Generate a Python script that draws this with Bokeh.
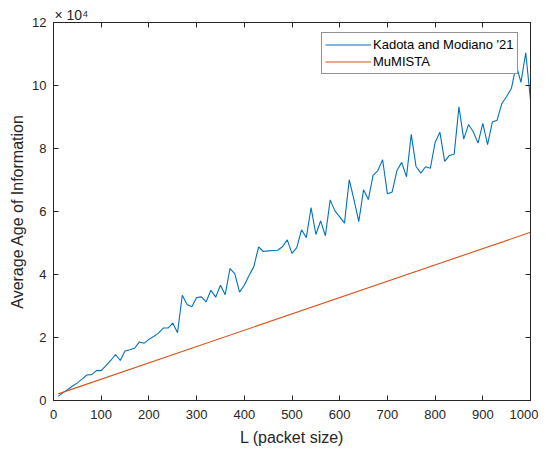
from bokeh.plotting import figure
from bokeh.models import (FixedTicker, Legend, LegendItem, Range1d,
                          LinearAxis, CustomLabelingPolicy)
from bokeh.embed import file_html
from bokeh.resources import INLINE

# ---- data ----
packet_size = [10, 20, 30, 40, 50, 60, 70, 80, 90, 100,
               110, 120, 130, 140, 150, 160, 170, 180, 190, 200,
               210, 220, 230, 240, 250, 260, 270, 280, 290, 300,
               310, 320, 330, 340, 350, 360, 370, 380, 390, 400,
               410, 420, 430, 440, 450, 460, 470, 480, 490, 500,
               510, 520, 530, 540, 550, 560, 570, 580, 590, 600,
               610, 620, 630, 640, 650, 660, 670, 680, 690, 700,
               710, 720, 730, 740, 750, 760, 770, 780, 790, 800,
               810, 820, 830, 840, 850, 860, 870, 880, 890, 900,
               910, 920, 930, 940, 950, 960, 970, 980, 990, 1000]
kadota_modiano = [1300, 2500, 3500, 4600, 5600, 6800, 8100, 8200, 9500, 9500,
                  11100, 12700, 14600, 12700, 15700, 16100, 16600, 18600, 18200, 19400,
                  20300, 21400, 23000, 23000, 24600, 21500, 33400, 30500, 29800, 32700,
                  32900, 31300, 35000, 32800, 36600, 33600, 41900, 40300, 34400, 36600,
                  39700, 42500, 48800, 47300, 47500, 47600, 47700, 48800, 51000, 46700,
                  48500, 54200, 51700, 61200, 52700, 57000, 52300, 63700, 60200, 58300,
                  56300, 70100, 63700, 56800, 66900, 63800, 71500, 73000, 76400, 65600,
                  66200, 73000, 75600, 71000, 84500, 74300, 72200, 74200, 73700, 81900,
                  85200, 75900, 77800, 78200, 93200, 83000, 87600, 85300, 81700, 88000,
                  81200, 88400, 89000, 94300, 96500, 99100, 106500, 101000, 110400, 95400]
mumista_L = [10, 1000]
mumista = [2100, 53400]

x_ticks = [0, 100, 200, 300, 400, 500, 600, 700, 800, 900, 1000]
y_ticks = [0, 20000, 40000, 60000, 80000, 100000, 120000]
y_tick_labels = ["0", "2", "4", "6", "8", "10", "12"]
y_exponent = "× 10⁴"

FONT = "Liberation Sans"
AXC = "#262626"

p = figure(frame_width=477, frame_height=378, output_backend="svg",
           toolbar_location=None,
           x_range=Range1d(0, 1000), y_range=Range1d(0, 120000),
           min_border_left=53, min_border_top=22, min_border_right=8,
           min_border_bottom=40)
p.grid.visible = False
p.outline_line_color = AXC
p.outline_line_width = 1
p.background_fill_color = "white"
p.border_fill_color = "white"

# exponent shown as a left-aligned title just above the frame
p.title.text = y_exponent
p.title.align = "left"
p.title.text_font = FONT
p.title.text_font_size = "14px"
p.title.text_font_style = "normal"
p.title.text_color = AXC
p.title.standoff = 0
p.title.offset = 1

r1 = p.line(packet_size, kadota_modiano, line_color="#0072BD", line_width=1.1)
r2 = p.line(mumista_L, mumista, line_color="#D95319", line_width=1.1)

no_labels = CustomLabelingPolicy(code="return new Set()")


def style_axis(ax, ticks, show_labels=True):
    ax.ticker = FixedTicker(ticks=ticks)
    ax.axis_line_color = AXC
    ax.major_tick_line_color = AXC
    ax.major_tick_in = 5
    ax.major_tick_out = 0
    ax.minor_tick_line_color = None
    ax.major_label_text_font = FONT
    ax.major_label_text_color = AXC
    ax.axis_label_text_font = FONT
    ax.axis_label_text_font_style = "normal"
    ax.axis_label_text_color = AXC
    if show_labels:
        ax.major_label_text_font_size = "13px"
        ax.axis_label_text_font_size = "16px"
    else:
        ax.major_label_text_font_size = "0px"
        ax.major_label_standoff = 0
        ax.major_label_policy = no_labels


xa = p.xaxis[0]
style_axis(xa, x_ticks)
xa.axis_label = "L (packet size)"
xa.major_label_standoff = 9
xa.axis_label_standoff = 7

ya = p.yaxis[0]
style_axis(ya, y_ticks)
ya.axis_label = "Average Age of Information"
ya.major_label_overrides = {t: s for t, s in zip(y_ticks, y_tick_labels)}
ya.major_label_standoff = 7
ya.axis_label_standoff = 3

top_ax = LinearAxis()
style_axis(top_ax, x_ticks, show_labels=False)
p.add_layout(top_ax, "above")
right_ax = LinearAxis()
style_axis(right_ax, y_ticks, show_labels=False)
p.add_layout(right_ax, "right")

legend = Legend(items=[LegendItem(label="Kadota and Modiano '21", renderers=[r1]),
                       LegendItem(label="MuMISTA", renderers=[r2])],
                location=(268, 326))
legend.label_text_font = FONT
legend.label_text_font_size = "13px"
legend.label_text_color = "black"
legend.glyph_width = 46
legend.glyph_height = 17
legend.label_height = 17
legend.label_standoff = 2
legend.padding = 3
legend.spacing = 0
legend.border_line_color = AXC
legend.border_line_width = 1
legend.background_fill_color = "white"
legend.background_fill_alpha = 1
p.add_layout(legend)

open("out.html", "w").write(file_html(p, INLINE))
